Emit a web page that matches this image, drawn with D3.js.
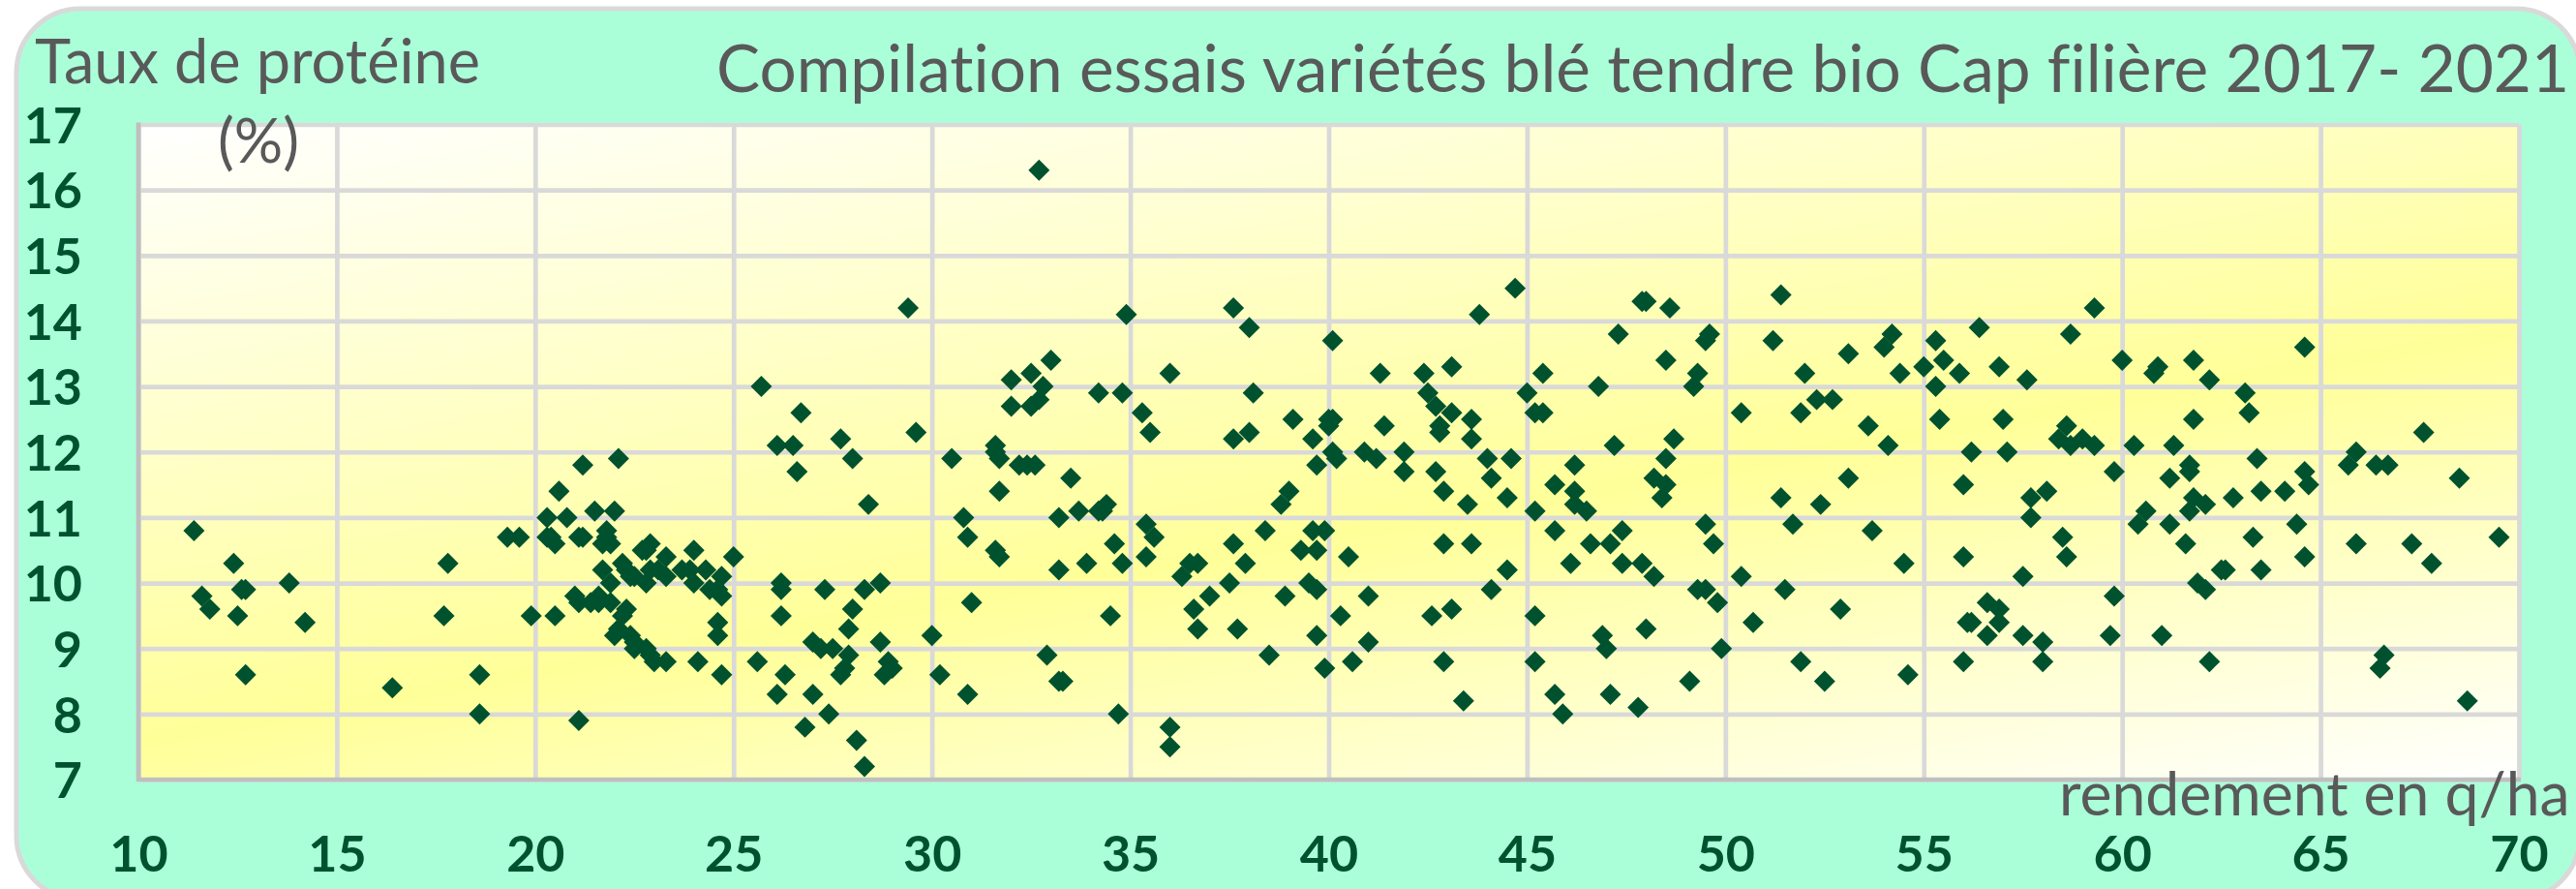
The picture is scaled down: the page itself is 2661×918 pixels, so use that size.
<!DOCTYPE html>
<html>
<head>
<meta charset="utf-8">
<script src="https://cdn.jsdelivr.net/npm/d3@7"></script>
<style>
  html, body { margin: 0; padding: 0; background: #fff; }
  svg { display: block; font-family: Lato, sans-serif; font-variant-ligatures: none; }
  .tick-label { font-family: Lato, sans-serif; font-size: 52px; font-weight: 700; fill: #00522f; }
  .chart-text { fill: #595959; }
</style>
</head>
<body>
<div id="chart"></div>
<script>
const titleText = "Compilation essais variétés blé tendre bio Cap filière 2017- 2021";
const yTitle = ["Taux de protéine", "(%)"];
const xTitle = "rendement en q/ha";

const xTicks = [10, 15, 20, 25, 30, 35, 40, 45, 50, 55, 60, 65, 70];
const yTicks = [7, 8, 9, 10, 11, 12, 13, 14, 15, 16, 17];

// rendement (q/ha), same order as proteine below
const rendement = [
  11.4, 12.4, 11.6, 11.8, 12.6, 12.7, 12.5, 13.8, 14.2, 12.7,
  16.4, 17.8, 17.7, 18.6, 18.6, 19.3, 19.6, 19.9, 20.5, 21.1,
  20.6, 20.3, 20.8, 20.3, 20.5, 20.4, 21.1, 21.2, 21.2, 22.1,
  21.5, 22.0, 21.8, 21.7, 21.9, 21.8, 22.9, 22.7, 22.8, 22.2,
  21.7, 22.3, 22.4, 22.5, 22.8, 21.9, 23.3, 22.9, 23.1, 23.3,
  24.0, 23.7, 23.9, 24.3, 24.0, 24.7, 25.0, 24.4, 24.6, 24.7,
  24.6, 24.6, 24.7, 24.1, 21.0, 21.1, 21.4, 21.6, 21.6, 21.9,
  22.3, 22.2, 22.1, 22.0, 22.4, 22.5, 22.5, 22.8, 23.0, 23.3, 22.9,

  25.6, 26.2, 26.2, 26.2, 27.3, 28.3, 28.0, 27.9, 27.0, 27.2,
  27.5, 27.9, 27.8, 27.7, 26.3, 26.1, 27.0, 27.4, 26.8, 28.1,
  28.3, 26.6, 28.0, 28.4, 25.7, 26.7, 26.1, 26.5, 27.7, 28.7,
  30.5, 31.6, 31.7, 31.6, 32.2, 32.4, 32.6, 33.5, 31.7, 30.8,
  33.2, 33.7, 34.2, 34.4, 34.3, 35.4, 35.6, 35.4, 34.6, 34.8,
  33.9, 33.2, 30.9, 31.6, 31.7, 31.0, 34.5, 30.0, 28.7, 28.9,
  29.0, 28.8, 30.2, 30.9, 32.9, 33.3, 33.2, 34.7, 36.0, 36.0,
  29.4, 32.7, 34.9, 37.6, 38.0, 33.0, 32.5, 32.0, 32.8, 32.0,
  32.5, 32.7, 34.2, 34.8, 36.0, 35.3, 35.5, 38.1, 29.6,

  38.5, 39.9, 40.6, 41.0, 39.7, 40.3, 41.0, 39.7, 39.5, 38.9,
  37.5, 37.0, 36.6, 36.7, 37.7, 36.3, 36.7, 36.5, 37.6, 37.9,
  38.4, 38.8, 39.0, 39.6, 39.9, 39.3, 39.7, 40.5, 39.7, 40.1,
  40.2, 40.9, 41.2, 41.9, 41.9, 42.7, 42.9, 43.5, 44.0, 44.1,
  44.6, 44.5, 42.9, 43.6, 44.5, 44.1, 43.1, 42.6, 42.9, 43.4,
  39.1, 39.6, 40.0, 40.1, 40.0, 38.0, 37.6, 41.3, 42.4, 43.1,
  42.5, 42.7, 43.1, 43.6, 42.8, 42.8, 43.6, 41.4, 44.7, 43.8,
  40.1,

  45.2, 45.2, 45.7, 45.9, 47.1, 47.8, 46.9, 47.0, 48.0, 49.1,
  49.9, 45.2, 45.7, 45.7, 46.2, 46.2, 46.2, 46.5, 46.6, 47.1,
  47.4, 47.4, 46.1, 47.9, 48.2, 48.2, 48.5, 48.4, 48.5, 47.2,
  49.5, 49.7, 49.3, 49.5, 49.8, 47.9, 48.0, 48.6, 47.3, 49.6,
  49.5, 48.5, 49.3, 49.2, 46.8, 45.4, 45.0, 45.2, 45.4, 48.7,

  51.4, 59.3, 51.2, 54.2, 54.0, 53.1, 52.0, 55.3, 55.5, 55.0,
  54.4, 55.9, 55.3, 56.4, 56.9, 57.6, 58.7, 60.0, 60.8, 60.9,
  61.8, 62.2, 63.1, 63.2, 64.6, 61.8, 52.3, 52.7, 50.4, 51.9,
  53.6, 54.1, 55.4, 57.0, 58.6, 56.2, 57.1, 58.4, 58.7, 59.0,
  59.3, 60.3, 61.3, 67.6, 65.9, 65.7, 66.4, 66.7, 68.5, 63.4,
  64.6, 64.7, 59.8, 61.7, 61.7, 61.2, 56.0, 53.1, 51.4, 52.4,
  58.1, 57.7, 57.7, 58.5, 58.6, 56.0, 54.5, 53.7, 51.7, 50.4,
  51.5, 52.9, 50.7, 51.9, 52.5, 54.6, 56.0, 56.1, 56.2, 56.6,
  56.9, 56.9, 56.6, 57.5, 58.0, 58.0, 57.5, 59.8, 59.7, 61.0,
  62.2, 60.4, 60.6, 61.2, 61.6, 61.8, 62.1, 61.7, 62.8, 63.5,
  64.1, 64.4, 63.3, 64.6, 63.5, 62.5, 62.6, 61.9, 62.1, 65.9,
  67.3, 67.8, 69.5, 66.6, 66.5, 68.7
];

// taux de proteine (%)
const proteine = [
  10.8, 10.3, 9.8, 9.6, 9.9, 9.9, 9.5, 10.0, 9.4, 8.6,
  8.4, 10.3, 9.5, 8.6, 8.0, 10.7, 10.7, 9.5, 9.5, 7.9,
  11.4, 11.0, 11.0, 10.7, 10.6, 10.7, 10.7, 10.7, 11.8, 11.9,
  11.1, 11.1, 10.8, 10.6, 10.6, 10.7, 10.6, 10.5, 10.5, 10.3,
  10.2, 10.2, 10.1, 10.1, 10.0, 10.0, 10.4, 10.2, 10.2, 10.1,
  10.5, 10.2, 10.2, 10.2, 10.0, 10.1, 10.4, 9.9, 9.9, 9.8,
  9.4, 9.2, 8.6, 8.8, 9.8, 9.7, 9.7, 9.7, 9.8, 9.7,
  9.6, 9.5, 9.3, 9.2, 9.2, 9.1, 9.0, 9.0, 8.8, 8.8, 8.9,

  8.8, 10.0, 9.9, 9.5, 9.9, 9.9, 9.6, 9.3, 9.1, 9.0,
  9.0, 8.9, 8.7, 8.6, 8.6, 8.3, 8.3, 8.0, 7.8, 7.6,
  7.2, 11.7, 11.9, 11.2, 13.0, 12.6, 12.1, 12.1, 12.2, 10.0,
  11.9, 12.1, 11.9, 12.0, 11.8, 11.8, 11.8, 11.6, 11.4, 11.0,
  11.0, 11.1, 11.1, 11.2, 11.1, 10.9, 10.7, 10.4, 10.6, 10.3,
  10.3, 10.2, 10.7, 10.5, 10.4, 9.7, 9.5, 9.2, 9.1, 8.8,
  8.7, 8.6, 8.6, 8.3, 8.9, 8.5, 8.5, 8.0, 7.8, 7.5,
  14.2, 16.3, 14.1, 14.2, 13.9, 13.4, 13.2, 13.1, 13.0, 12.7,
  12.7, 12.8, 12.9, 12.9, 13.2, 12.6, 12.3, 12.9, 12.3,

  8.9, 8.7, 8.8, 9.1, 9.2, 9.5, 9.8, 9.9, 10.0, 9.8,
  10.0, 9.8, 9.6, 9.3, 9.3, 10.1, 10.3, 10.3, 10.6, 10.3,
  10.8, 11.2, 11.4, 10.8, 10.8, 10.5, 10.5, 10.4, 11.8, 12.0,
  11.9, 12.0, 11.9, 12.0, 11.7, 11.7, 11.4, 11.2, 11.9, 11.6,
  11.9, 11.3, 10.6, 10.6, 10.2, 9.9, 9.6, 9.5, 8.8, 8.2,
  12.5, 12.2, 12.5, 12.5, 12.4, 12.3, 12.2, 13.2, 13.2, 13.3,
  12.9, 12.7, 12.6, 12.5, 12.4, 12.3, 12.2, 12.4, 14.5, 14.1,
  13.7,

  9.5, 8.8, 8.3, 8.0, 8.3, 8.1, 9.2, 9.0, 9.3, 8.5,
  9.0, 11.1, 11.5, 10.8, 11.8, 11.4, 11.2, 11.1, 10.6, 10.6,
  10.8, 10.3, 10.3, 10.3, 10.1, 11.6, 11.5, 11.3, 11.9, 12.1,
  10.9, 10.6, 9.9, 9.9, 9.7, 14.3, 14.3, 14.2, 13.8, 13.8,
  13.7, 13.4, 13.2, 13.0, 13.0, 13.2, 12.9, 12.6, 12.6, 12.2,

  14.4, 14.2, 13.7, 13.8, 13.6, 13.5, 13.2, 13.7, 13.4, 13.3,
  13.2, 13.2, 13.0, 13.9, 13.3, 13.1, 13.8, 13.4, 13.2, 13.3,
  13.4, 13.1, 12.9, 12.6, 13.6, 12.5, 12.8, 12.8, 12.6, 12.6,
  12.4, 12.1, 12.5, 12.5, 12.4, 12.0, 12.0, 12.2, 12.1, 12.2,
  12.1, 12.1, 12.1, 12.3, 12.0, 11.8, 11.8, 11.8, 11.6, 11.9,
  11.7, 11.5, 11.7, 11.8, 11.7, 11.6, 11.5, 11.6, 11.3, 11.2,
  11.4, 11.3, 11.0, 10.7, 10.4, 10.4, 10.3, 10.8, 10.9, 10.1,
  9.9, 9.6, 9.4, 8.8, 8.5, 8.6, 8.8, 9.4, 9.4, 9.7,
  9.6, 9.4, 9.2, 9.2, 9.1, 8.8, 10.1, 9.8, 9.2, 9.2,
  8.8, 10.9, 11.1, 10.9, 10.6, 11.3, 11.2, 11.1, 11.3, 11.4,
  11.4, 10.9, 10.7, 10.4, 10.2, 10.2, 10.2, 10.0, 9.9, 10.6,
  10.6, 10.3, 10.7, 8.9, 8.7, 8.2
];

const width = 2661, height = 918;

const x = d3.scaleLinear().domain([10, 70]).range([143, 2602]);
const y = d3.scaleLinear().domain([7, 17]).range([805, 128.5]);

const svg = d3.select("#chart").append("svg")
    .attr("width", width).attr("height", height);

// plot background: white in two corners, yellow band slightly flatter than the diagonal
const grad = svg.append("defs").append("linearGradient")
    .attr("id", "plotFill")
    .attr("gradientUnits", "userSpaceOnUse")
    .attr("x1", x(10)).attr("y1", y(17))
    .attr("x2", x(10) + 184).attr("y2", y(17) + 1068);
grad.append("stop").attr("offset", "0%").attr("stop-color", "#ffffff");
grad.append("stop").attr("offset", "58%").attr("stop-color", "#ffff99");
grad.append("stop").attr("offset", "100%").attr("stop-color", "#ffffff");

// chart area
svg.append("rect")
    .attr("x", 17).attr("y", 9)
    .attr("width", 2648).attr("height", 920)
    .attr("rx", 66).attr("ry", 66)
    .attr("fill", "#aaffd9")
    .attr("stroke", "#d9d9d9").attr("stroke-width", 5);

svg.append("rect")
    .attr("x", x(10)).attr("y", y(17))
    .attr("width", x(70) - x(10)).attr("height", y(7) - y(17))
    .attr("fill", "url(#plotFill)");

// GRID + TICK LABELS
const xAxis = svg.append("g")
    .attr("transform", "translate(0," + y(7) + ")")
    .call(d3.axisBottom(x).tickValues(xTicks).tickSize(y(17) - y(7)).tickPadding(0));
const yAxis = svg.append("g")
    .attr("transform", "translate(" + x(10) + ",0)")
    .call(d3.axisLeft(y).tickValues(yTicks).tickSize(x(10) - x(70)).tickPadding(0));

[xAxis, yAxis].forEach(function (g) {
    g.select(".domain").remove();
    g.selectAll(".tick line").attr("stroke", "#d9d9d9").attr("stroke-width", 4.7);
});

xAxis.selectAll(".tick text")
    .attr("class", "tick-label")
    .attr("y", 0).attr("dy", 95);
yAxis.selectAll(".tick text")
    .attr("class", "tick-label")
    .attr("x", 85 - x(10)).attr("dy", "0.36em")
    .attr("text-anchor", "end");

// the two axes are a bit darker than the grid
svg.append("line")
    .attr("x1", x(10)).attr("x2", x(10)).attr("y1", y(17) - 2).attr("y2", y(7) + 2)
    .attr("stroke", "#bfbfbf").attr("stroke-width", 4.7);
svg.append("line")
    .attr("x1", x(10) - 2).attr("x2", x(70) + 2).attr("y1", y(7)).attr("y2", y(7))
    .attr("stroke", "#bfbfbf").attr("stroke-width", 4.7);

// POINTS
const diamond = d3.symbol().type(d3.symbolDiamond2).size(308);
svg.append("g").selectAll("path")
    .data(d3.zip(rendement, proteine))
    .enter().append("path")
    .attr("d", diamond)
    .attr("transform", d => "translate(" + x(d[0]) + "," + y(d[1]) + ")")
    .attr("fill", "#00522f");

// TITLES
svg.append("text").attr("class", "chart-text")
    .attr("x", 740).attr("y", 95)
    .attr("font-size", 67.5)
    .text(titleText);
svg.append("text").attr("class", "chart-text")
    .attr("x", 36).attr("y", 86)
    .attr("font-size", 63)
    .text(yTitle[0]);
svg.append("text").attr("class", "chart-text")
    .attr("x", 225).attr("y", 168)
    .attr("font-size", 63)
    .text(yTitle[1]);
svg.append("text").attr("class", "chart-text")
    .attr("x", 2127).attr("y", 842)
    .attr("font-size", 62.5)
    .text(xTitle);
</script>
</body>
</html>
